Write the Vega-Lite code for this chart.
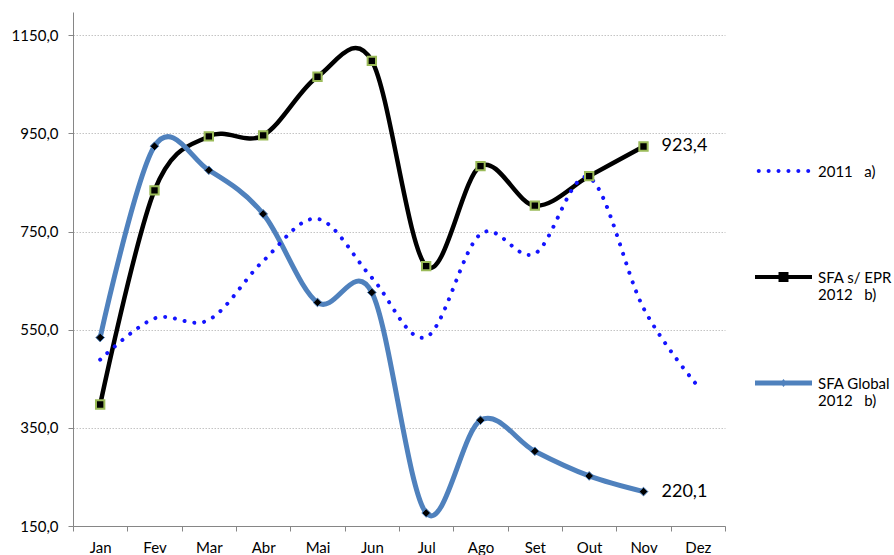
{
  "$schema": "https://vega.github.io/schema/vega-lite/v6.json",
  "width": 652,
  "height": 514,
  "autosize": {"type": "none"},
  "padding": {"left": 73, "top": 12, "right": 169, "bottom": 29},
  "background": "white",
  "config": {
    "view": {"stroke": null},
    "font": "Lato",
    "locale": {"number": {"decimal": ",", "thousands": ".", "grouping": [3], "currency": ["", ""]}}
  },
  "data": {
    "values": [
      {"month": "Jan", "series": "2011", "value": 489},
      {"month": "Fev", "series": "2011", "value": 573},
      {"month": "Mar", "series": "2011", "value": 570},
      {"month": "Abr", "series": "2011", "value": 690},
      {"month": "Mai", "series": "2011", "value": 776},
      {"month": "Jun", "series": "2011", "value": 656},
      {"month": "Jul", "series": "2011", "value": 535},
      {"month": "Ago", "series": "2011", "value": 745},
      {"month": "Set", "series": "2011", "value": 705},
      {"month": "Out", "series": "2011", "value": 860},
      {"month": "Nov", "series": "2011", "value": 594},
      {"month": "Dez", "series": "2011", "value": 435},
      {"month": "Jan", "series": "SFA s/ EPR", "value": 397.6},
      {"month": "Fev", "series": "SFA s/ EPR", "value": 834},
      {"month": "Mar", "series": "SFA s/ EPR", "value": 944},
      {"month": "Abr", "series": "SFA s/ EPR", "value": 946},
      {"month": "Mai", "series": "SFA s/ EPR", "value": 1065.6},
      {"month": "Jun", "series": "SFA s/ EPR", "value": 1098},
      {"month": "Jul", "series": "SFA s/ EPR", "value": 679.6},
      {"month": "Ago", "series": "SFA s/ EPR", "value": 883.5},
      {"month": "Set", "series": "SFA s/ EPR", "value": 803},
      {"month": "Out", "series": "SFA s/ EPR", "value": 863},
      {"month": "Nov", "series": "SFA s/ EPR", "value": 923.4},
      {"month": "Jan", "series": "SFA Global", "value": 534},
      {"month": "Fev", "series": "SFA Global", "value": 924},
      {"month": "Mar", "series": "SFA Global", "value": 875},
      {"month": "Abr", "series": "SFA Global", "value": 786},
      {"month": "Mai", "series": "SFA Global", "value": 605.6},
      {"month": "Jun", "series": "SFA Global", "value": 626},
      {"month": "Jul", "series": "SFA Global", "value": 176.5},
      {"month": "Ago", "series": "SFA Global", "value": 365.6},
      {"month": "Set", "series": "SFA Global", "value": 302.3},
      {"month": "Out", "series": "SFA Global", "value": 252},
      {"month": "Nov", "series": "SFA Global", "value": 220.1}
    ]
  },
  "encoding": {
    "x": {
      "field": "month",
      "type": "ordinal",
      "sort": ["Jan", "Fev", "Mar", "Abr", "Mai", "Jun", "Jul", "Ago", "Set", "Out", "Nov", "Dez"],
      "bandPosition": 0.5,
      "scale": {"type": "band", "paddingInner": 0, "paddingOuter": 0},
      "axis": {
        "title": null,
        "tickBand": "extent",
        "labelAngle": 0,
        "grid": false,
        "domainColor": "#868686",
        "tickColor": "#868686",
        "tickSize": 5,
        "labelPadding": 9,
        "labelFontSize": 15,
        "labelColor": "#000000",
        "labelFont": "Lato"
      }
    },
    "y": {
      "field": "value",
      "type": "quantitative",
      "scale": {"domain": [150, 1197.5], "nice": false, "zero": false},
      "axis": {
        "title": null,
        "values": [150, 350, 550, 750, 950, 1150],
        "format": ".1f",
        "grid": true,
        "gridColor": "#c4c4c4",
        "gridDash": [1.5, 1.5],
        "domainColor": "#868686",
        "tickColor": "#868686",
        "tickSize": 5,
        "labelPadding": 10,
        "labelFontSize": 15,
        "labelColor": "#000000",
        "labelFont": "Lato"
      }
    }
  },
  "layer": [
    {
      "transform": [{"filter": "datum.series == 'SFA s/ EPR'"}],
      "mark": {"type": "line", "interpolate": "cardinal", "stroke": "#000000", "strokeWidth": 4.5}
    },
    {
      "transform": [{"filter": "datum.series == 'SFA Global'"}],
      "mark": {"type": "line", "interpolate": "cardinal", "stroke": "#4f81bd", "strokeWidth": 5}
    },
    {
      "transform": [{"filter": "datum.series == '2011'"}],
      "mark": {"type": "line", "interpolate": "cardinal", "stroke": "#1414ff", "strokeWidth": 4, "strokeCap": "round", "strokeDash": [0.01, 9.9]}
    },
    {
      "transform": [{"filter": "datum.series == 'SFA s/ EPR'"}],
      "mark": {"type": "point", "shape": "square", "filled": true, "fill": "#000000", "stroke": "#9bbb59", "strokeWidth": 2, "size": 70, "opacity": 1}
    },
    {
      "transform": [{"filter": "datum.series == 'SFA Global'"}],
      "mark": {"type": "point", "shape": "diamond", "filled": true, "fill": "#000000", "stroke": "#4f81bd", "strokeWidth": 1, "size": 75, "opacity": 1}
    },
    {
      "transform": [{"filter": "datum.month == 'Nov' && datum.series != '2011'"}],
      "mark": {"type": "text", "align": "left", "baseline": "middle", "dx": 18, "fontSize": 18, "font": "Lato", "color": "#000000"},
      "encoding": {"text": {"field": "value", "type": "quantitative", "format": ".1f"}}
    },
    {
      "mark": {"type": "point", "filled": true, "opacity": 0},
      "encoding": {
        "shape": {
          "field": "series",
          "type": "nominal",
          "scale": {
            "domain": ["2011", "SFA s/ EPR", "SFA Global"],
            "range": [
              "M-0.938,-0.19a0.07,0.07 0 1,0 0.14,0a0.07,0.07 0 1,0 -0.14,0M-0.591,-0.19a0.07,0.07 0 1,0 0.14,0a0.07,0.07 0 1,0 -0.14,0M-0.244,-0.19a0.07,0.07 0 1,0 0.14,0a0.07,0.07 0 1,0 -0.14,0M0.104,-0.19a0.07,0.07 0 1,0 0.14,0a0.07,0.07 0 1,0 -0.14,0M0.451,-0.19a0.07,0.07 0 1,0 0.14,0a0.07,0.07 0 1,0 -0.14,0M0.798,-0.19a0.07,0.07 0 1,0 0.14,0a0.07,0.07 0 1,0 -0.14,0",
              "M-1,-0.26H1V-0.12H-1ZM-0.175,-0.365H0.175V-0.015H-0.175Z",
              "M-1,-0.278H1V-0.102H-1ZM0,-0.33L0.12,-0.19L0,-0.05L-0.12,-0.19Z"
            ]
          },
          "legend": {
            "title": null,
            "orient": "none",
            "legendX": 682,
            "legendY": 136,
            "padding": 0,
            "symbolSize": 3249,
            "symbolOpacity": 1,
            "symbolStrokeWidth": 0,
            "labelFontSize": 15,
            "labelFont": "Lato",
            "labelColor": "#000000",
            "labelOffset": 6,
            "labelLimit": 300,
            "labelBaseline": "alphabetic",
            "rowPadding": 57,
            "labelExpr": "datum.label == '2011' ? ['2011 \u00a0 a)', '\u00a0'] : datum.label == 'SFA s/ EPR' ? ['SFA s/ EPR', '2012 \u00a0 b)'] : ['SFA Global', '2012 \u00a0 b)']"
          }
        },
        "fill": {
          "field": "series",
          "type": "nominal",
          "scale": {
            "domain": ["2011", "SFA s/ EPR", "SFA Global"],
            "range": ["#1414ff", "#000000", "#4f81bd"]
          },
          "legend": {
            "title": null,
            "orient": "none",
            "legendX": 682,
            "legendY": 136,
            "padding": 0,
            "symbolSize": 3249,
            "symbolOpacity": 1,
            "symbolStrokeWidth": 0,
            "labelFontSize": 15,
            "labelFont": "Lato",
            "labelColor": "#000000",
            "labelOffset": 6,
            "labelLimit": 300,
            "labelBaseline": "alphabetic",
            "rowPadding": 57,
            "labelExpr": "datum.label == '2011' ? ['2011 \u00a0 a)', '\u00a0'] : datum.label == 'SFA s/ EPR' ? ['SFA s/ EPR', '2012 \u00a0 b)'] : ['SFA Global', '2012 \u00a0 b)']"
          }
        }
      }
    }
  ]
}
